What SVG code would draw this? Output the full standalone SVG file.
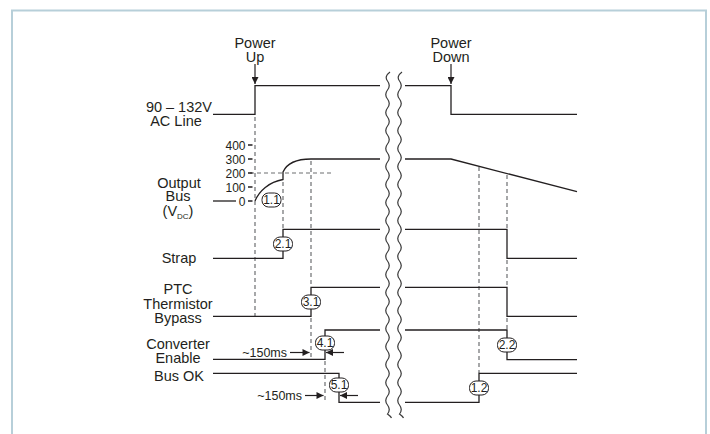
<svg xmlns="http://www.w3.org/2000/svg" width="710" height="434" viewBox="0 0 710 434">
<defs>
<style>
.t{font-family:"Liberation Sans",Arial,sans-serif;font-size:14.5px;fill:#231f20}
.tc{text-anchor:middle}
.te{text-anchor:end}
.n{font-family:"Liberation Sans",Arial,sans-serif;font-size:12px;fill:#231f20;text-anchor:end}
.b{font-family:"Liberation Sans",Arial,sans-serif;font-size:12px;fill:#231f20;text-anchor:middle}
.ms{font-family:"Liberation Sans",Arial,sans-serif;font-size:12.5px;fill:#231f20;text-anchor:end}
.sig{fill:none;stroke:#231f20;stroke-width:1.3}
.dash{fill:none;stroke:#6d6e71;stroke-width:1.2;stroke-dasharray:4 3}
.wave{fill:none;stroke:#3a3a3a;stroke-width:1.2}
.bub{fill:#fff;stroke:#231f20;stroke-width:1}
.arr{fill:none;stroke:#231f20;stroke-width:1.2}
</style>
<marker id="ah" viewBox="0 0 10 10" refX="10" refY="5" markerWidth="8" markerHeight="7" markerUnits="userSpaceOnUse" orient="auto">
<path d="M0 0 L10 5 L0 10 z" fill="#231f20"/>
</marker>
</defs>
<rect x="12" y="10.5" width="694" height="440" fill="#fff" stroke="#b7cfd9" stroke-width="2"/>

<g id="connectors">
<g id="guides">
<path class="dash" d="M255 117 V316"/>
<path class="dash" d="M283 182 V229"/>
<path class="dash" d="M311 161 V287 M311 318 V357"/>
<path class="dash" d="M325 361 V403"/>
<path class="dash" d="M250 173 H331"/>
<path class="dash" d="M479 167 V373"/>
<path class="dash" d="M507 175 V229 M507 260 V287 M507 318 V330"/>
</g>
<g id="ticks">
<path class="sig" d="M248 145 H252.5 M248 159 H252.5 M248 173 H252.5 M248 187 H252.5 M248 201 H252.5"/>
</g>
<g id="power-arrows">
<path class="arr" d="M255 64 V84" marker-end="url(#ah)"/>
<path class="arr" d="M451 64 V84" marker-end="url(#ah)"/>
</g>
<g id="timing-arrows">
<path class="arr" d="M290 352.5 H309.5" marker-end="url(#ah)"/>
<path class="arr" d="M344 352.5 H326" marker-end="url(#ah)"/>
<path class="arr" d="M305 395.5 H323.5" marker-end="url(#ah)"/>
<path class="arr" d="M358 395.5 H340" marker-end="url(#ah)"/>
</g>
</g>

<g id="ac-line">
<path class="sig" d="M213 114.3 H255 V85.7 H380"/>
<path class="sig" d="M405 85.7 H451 V114.3 H577"/>
</g>
<g id="output-bus">
<path class="sig" d="M213 201 H236"/>
<path class="sig" d="M255 201 C259 191 269 182 283 179.5 V172 C287 163 297 159 311 159 H380"/>
<path class="sig" d="M405 159 H451 L577 191.7"/>
</g>
<g id="strap">
<path class="sig" d="M213 258.3 H283 V229.3 H380"/>
<path class="sig" d="M405 229.3 H507 V258.3 H577"/>
</g>
<g id="ptc">
<path class="sig" d="M213 316.3 H311 V287.3 H380"/>
<path class="sig" d="M405 287.3 H507 V316.3 H577"/>
</g>
<g id="converter-enable">
<path class="sig" d="M213 359.3 H325 V330 H380"/>
<path class="sig" d="M405 330 H507 V359.7 H577"/>
</g>
<g id="bus-ok">
<path class="sig" d="M213 373.3 H339 V402.3 H380"/>
<path class="sig" d="M405 402.3 H479 V373.3 H577"/>
</g>

<g id="break">
<path class="wave" d="M390 72 q-6 4.5 -2.5 9 t0 9 t0 9 t0 9 t0 9 t0 9 t0 9 t0 9 t0 9 t0 9 t0 9 t0 9 t0 9 t0 9 t0 9 t0 9 t0 9 t0 9 t0 9 t0 9 t0 9 t0 9 t0 9 t0 9 t0 9 t0 9 t0 9 t0 9 t0 9 t0 9 t0 9 t0 9 t0 9 t0 9 t0 9 t0 9 t0 9 t0 9 q3 2 4 4"/>
<path class="wave" d="M402 72 q-6 4.5 -2.5 9 t0 9 t0 9 t0 9 t0 9 t0 9 t0 9 t0 9 t0 9 t0 9 t0 9 t0 9 t0 9 t0 9 t0 9 t0 9 t0 9 t0 9 t0 9 t0 9 t0 9 t0 9 t0 9 t0 9 t0 9 t0 9 t0 9 t0 9 t0 9 t0 9 t0 9 t0 9 t0 9 t0 9 t0 9 t0 9 t0 9 t0 9 q3 2 4 4"/>
</g>

<g id="labels">
<text class="t tc" x="255" y="48">Power</text>
<text class="t tc" x="255" y="61.5">Up</text>
<text class="t tc" x="451" y="48">Power</text>
<text class="t tc" x="451" y="61.5">Down</text>
<text class="t te" x="212" y="112">90 – 132V</text>
<text class="t tc" x="176" y="126">AC Line</text>
<text class="t tc" x="179" y="188">Output</text>
<text class="t tc" x="178" y="201">Bus</text>
<text class="t tc" x="178" y="216">(V<tspan font-size="8" dy="3">DC</tspan><tspan dy="-3">)</tspan></text>
<text class="t tc" x="179" y="263">Strap</text>
<text class="t tc" x="178" y="294">PTC</text>
<text class="t tc" x="178" y="309">Thermistor</text>
<text class="t tc" x="178" y="323">Bypass</text>
<text class="t tc" x="178" y="349">Converter</text>
<text class="t tc" x="178" y="363">Enable</text>
<text class="t tc" x="179" y="381">Bus OK</text>
<text class="n" x="245.5" y="149.5">400</text>
<text class="n" x="245.5" y="163.5">300</text>
<text class="n" x="245.5" y="177.5">200</text>
<text class="n" x="245.5" y="191.5">100</text>
<text class="n" x="245.5" y="205.5">0</text>
<text class="ms" x="287" y="356.5">~150ms</text>
<text class="ms" x="302" y="399.5">~150ms</text>
</g>

<g id="event-1-1"><rect class="bub" x="262" y="193" width="19" height="14" rx="6.5"/><text class="b" x="271.5" y="204.3">1.1</text></g>
<g id="event-2-1"><rect class="bub" x="273.5" y="237" width="19" height="14" rx="6.5"/><text class="b" x="283" y="248.3">2.1</text></g>
<g id="event-3-1"><rect class="bub" x="301.5" y="295" width="19" height="14" rx="6.5"/><text class="b" x="311" y="306.3">3.1</text></g>
<g id="event-4-1"><rect class="bub" x="315.5" y="336" width="19" height="14" rx="6.5"/><text class="b" x="325" y="347.3">4.1</text></g>
<g id="event-5-1"><rect class="bub" x="329.5" y="378" width="19" height="14" rx="6.5"/><text class="b" x="339" y="389.3">5.1</text></g>
<g id="event-2-2"><rect class="bub" x="497.5" y="338" width="19" height="14" rx="6.5"/><text class="b" x="507" y="349.3">2.2</text></g>
<g id="event-1-2"><rect class="bub" x="469.5" y="381" width="19" height="14" rx="6.5"/><text class="b" x="479" y="392.3">1.2</text></g>
</svg>
